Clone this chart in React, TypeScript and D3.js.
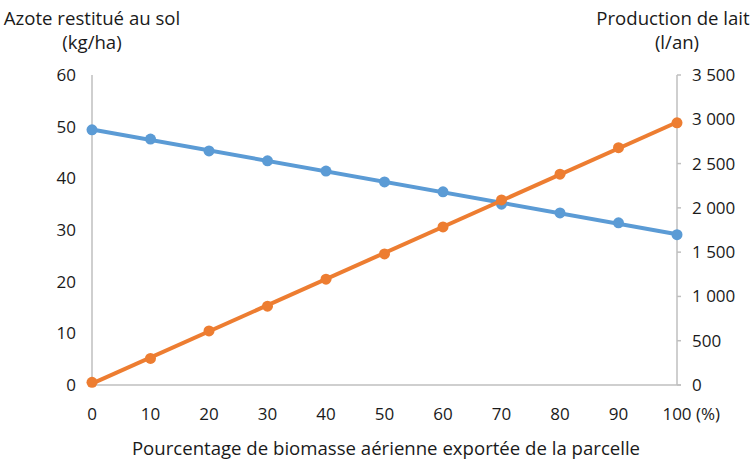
import React from "react";
import * as d3 from "d3";

const xValues = [0, 10, 20, 30, 40, 50, 60, 70, 80, 90, 100];
const azote = [49.4, 47.6, 45.3, 43.4, 41.4, 39.3, 37.4, 35.0, 33.3, 31.4, 29.1];
const lait = [30, 300, 610, 890, 1195, 1480, 1785, 2090, 2380, 2680, 2960];
const leftTicks = [0, 10, 20, 30, 40, 50, 60];
const rightTicks = [0, 500, 1000, 1500, 2000, 2500, 3000, 3500];
const xTicks = [0, 10, 20, 30, 40, 50, 60, 70, 80, 90, 100];

const W = 756, H = 461;
const M = { left: 92, right: 677, top: 75, bottom: 385 };
const FONT = "'Open Sans', sans-serif";
const TEXT = "#1a1a1a";
const AXIS = "#bfbfbf";
const BLUE = "#5b9bd5";
const ORANGE = "#ed7d31";
const TICK_FS = 17;
const TITLE_FS = 18.6;

function fit(xs: number[], ys: number[]) {
  const mx = d3.mean(xs) as number, my = d3.mean(ys) as number;
  let num = 0, den = 0;
  xs.forEach((x, i) => { num += (x - mx) * (ys[i] - my); den += (x - mx) ** 2; });
  const b = num / den;
  return { a: my - b * mx, b };
}

const fmt = (v: number) => d3.format(",")(v).replace(/,/g, " ");

export default function App() {
  const x = d3.scaleLinear().domain([0, 100]).range([M.left, M.right]);
  const yL = d3.scaleLinear().domain([0, 60]).range([M.bottom, M.top]);
  const yR = d3.scaleLinear().domain([0, 3500]).range([M.bottom, M.top]);

  const fb = fit(xValues, azote);
  const fo = fit(xValues, lait);
  const lineB = d3.line<number>().x(d => x(d)).y(d => yL(fb.a + fb.b * d))([0, 100]);
  const lineO = d3.line<number>().x(d => x(d)).y(d => yR(Math.max(0, fo.a + fo.b * d)))([0, 100]);

  return (
    <svg width={W} height={H} style={{ position: "absolute", left: 0, top: 0 }} fontFamily={FONT}>
      <rect width={W} height={H} fill="#fff" />
      <line x1={M.left} x2={M.left} y1={M.top} y2={M.bottom} stroke={AXIS} strokeWidth={1.5} />
      <line x1={M.right} x2={M.right} y1={M.top} y2={M.bottom} stroke={AXIS} strokeWidth={1.5} />
      <line x1={M.left} x2={M.right + 4} y1={M.bottom} y2={M.bottom} stroke={AXIS} strokeWidth={1.5} />
      {rightTicks.map(t => (
        <line key={"rt" + t} x1={M.right} x2={M.right + 4} y1={yR(t)} y2={yR(t)} stroke={AXIS} strokeWidth={1.5} />
      ))}
      {leftTicks.map(t => (
        <text key={"l" + t} x={76} y={yL(t)} dy="0.35em" textAnchor="end" fontSize={TICK_FS} fill={TEXT}>{t}</text>
      ))}
      {rightTicks.map(t => (
        <text key={"r" + t} x={692} y={yR(t)} dy="0.35em" textAnchor="start" fontSize={TICK_FS} fill={TEXT}>{fmt(t)}</text>
      ))}
      {xTicks.map(t => (
        <text key={"x" + t} x={x(t)} y={420} textAnchor="middle" fontSize={TICK_FS} fill={TEXT}>{t}</text>
      ))}
      <text x={x(100) + 19} y={420} textAnchor="start" fontSize={TICK_FS} fill={TEXT}>(%)</text>
      <text x={M.left} y={25} textAnchor="middle" fontSize={TITLE_FS} fill={TEXT}>Azote restitué au sol</text>
      <text x={M.left} y={49} textAnchor="middle" fontSize={TITLE_FS} fill={TEXT}>(kg/ha)</text>
      <text x={673} y={25} textAnchor="middle" fontSize={TITLE_FS} fill={TEXT}>Production de lait</text>
      <text x={677} y={49} textAnchor="middle" fontSize={TITLE_FS} fill={TEXT}>(l/an)</text>
      <text x={386} y={455} textAnchor="middle" fontSize={TITLE_FS} fill={TEXT}>Pourcentage de biomasse aérienne exportée de la parcelle</text>
      <path d={lineB || ""} stroke={BLUE} strokeWidth={4} fill="none" />
      {xValues.map((v, i) => (
        <circle key={"b" + i} cx={x(v)} cy={yL(azote[i])} r={5.5} fill={BLUE} />
      ))}
      <path d={lineO || ""} stroke={ORANGE} strokeWidth={4} fill="none" />
      {xValues.map((v, i) => (
        <circle key={"o" + i} cx={x(v)} cy={yR(lait[i])} r={5.5} fill={ORANGE} />
      ))}
    </svg>
  );
}
